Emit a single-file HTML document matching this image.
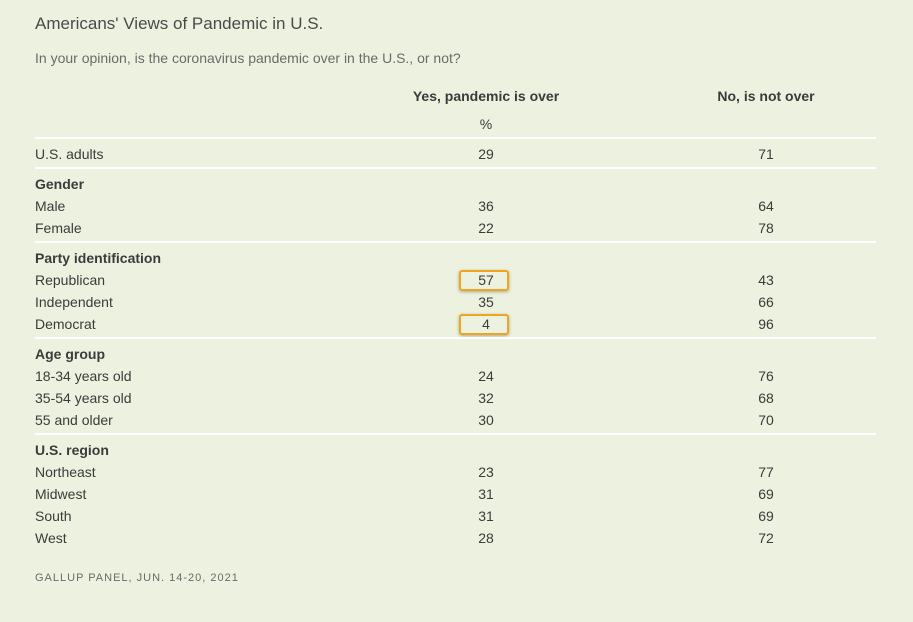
<!DOCTYPE html>
<html><head><meta charset="utf-8">
<style>
html,body{margin:0;padding:0;}
body{width:913px;height:622px;background:#ecf2df;font-family:"Liberation Sans",sans-serif;color:#3b3b3b;position:relative;overflow:hidden;}
.t{position:absolute;white-space:nowrap;line-height:1;}
.c{transform:translateX(-50%);}
.sep{position:absolute;left:35px;width:841px;height:2px;background:#fff;}
.hl{position:absolute;border:2.5px solid #f0a61c;border-radius:3px;box-shadow:0 1px 3px rgba(0,0,0,0.3);box-sizing:border-box;}
</style></head><body>
<div class="t" style="left:35px;top:15px;font-size:17px;color:#4a4a4a;">Americans' Views of Pandemic in U.S.</div>
<div class="t" style="left:35px;top:51px;font-size:14px;color:#6a6a6a;">In your opinion, is the coronavirus pandemic over in the U.S., or not?</div>
<div class="t c" style="left:486px;top:89px;font-size:14px;font-weight:bold;">Yes, pandemic is over</div>
<div class="t c" style="left:766px;top:89px;font-size:14px;font-weight:bold;">No, is not over</div>
<div class="t c" style="left:486px;top:117px;font-size:14px;">%</div>
<div id="tbl"></div>
<div class="t" style="left:35px;top:573px;font-size:11px;letter-spacing:1px;color:#6a6a6a;">GALLUP PANEL, JUN. 14-20, 2021</div>
<script>
const labels=["U.S. adults","Gender","Male","Female","Party identification","Republican","Independent","Democrat","Age group","18-34 years old","35-54 years old","55 and older","U.S. region","Northeast","Midwest","South","West"];
const isGroup=[0,1,0,0,1,0,0,0,1,0,0,0,1,0,0,0,0];
const yesVals=[29,null,36,22,null,57,35,4,null,24,32,30,null,23,31,31,28];
const noVals=[71,null,64,78,null,43,66,96,null,76,68,70,null,77,69,69,72];
const highlighted=[5,7];
const sepBefore=[0,1,4,8,12];
const tbl=document.getElementById('tbl');
let y=154;
const yC=486,nC=766;
labels.forEach((lab,i)=>{
  if(sepBefore.includes(i)){
    const s=document.createElement('div');s.className='sep';
    
    
    s.style.top=(y-(i===0?17:9))+'px';tbl.appendChild(s);
    if(i>0) y+=8;
  }
  const l=document.createElement('div');l.className='t';
  
  
  l.style.left='35px';l.style.top=(y-7)+'px';l.style.fontSize='14px';
  if(isGroup[i])l.style.fontWeight='bold';
  l.textContent=lab;tbl.appendChild(l);
  if(yesVals[i]!==null){
    const a=document.createElement('div');a.className='t c';
    
    
    a.style.left=yC+'px';a.style.top=(y-7)+'px';a.style.fontSize='14px';
    a.textContent=yesVals[i];tbl.appendChild(a);
    const b=document.createElement('div');b.className='t c';
    
    
    b.style.left=nC+'px';b.style.top=(y-7)+'px';b.style.fontSize='14px';
    b.textContent=noVals[i];tbl.appendChild(b);
    if(highlighted.includes(i)){
      const h=document.createElement('div');h.className='hl';
      
      
      h.style.left='459px';h.style.top=(y-10)+'px';h.style.width='50px';h.style.height='21px';
      tbl.appendChild(h);
    }
  }
  y+=22;
});
</script>
</body></html>
